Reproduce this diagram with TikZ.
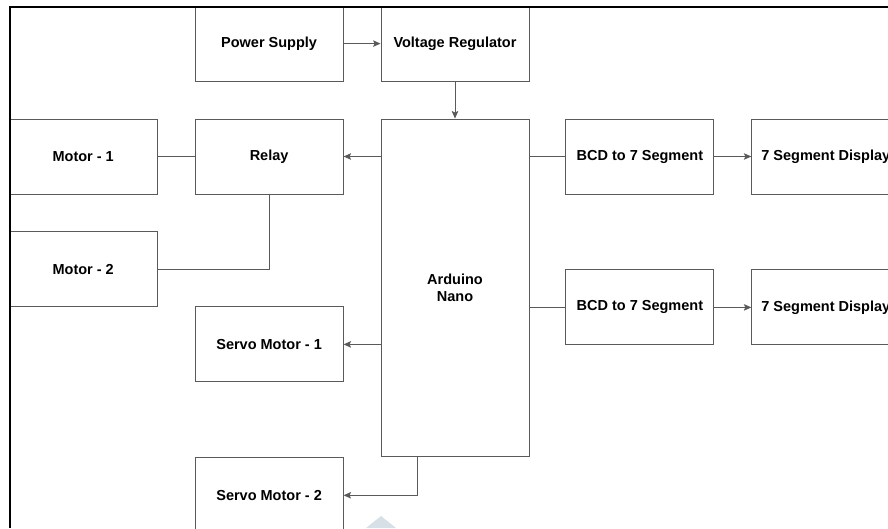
\documentclass[tikz,border=0pt]{standalone}
\usepackage{fontspec}
\setmainfont{Liberation Sans}
\usepackage{xcolor}
\usetikzlibrary{calc,arrows.meta,positioning}
\definecolor{edgegray}{RGB}{90,90,90}
\definecolor{markgray}{RGB}{214,224,230}

\begin{document}
\begin{tikzpicture}[x=1pt,y=1pt,font=\fontsize{14.5}{17}\selectfont\bfseries,>={Stealth[length=7.5pt,width=6.5pt,inset=1.5pt]},
      node distance=37pt,
      blk/.style={draw=edgegray,line width=0.9pt,minimum width=148pt,minimum height=75pt,align=center,inner sep=0pt},
      wire/.style={edgegray,line width=1pt}]
    \useasboundingbox (0,0) rectangle (888,-528);
    \clip (0,0) rectangle (888,-528);
    \node[blk,minimum height=337pt] (nano) at (455,-287.5) {Arduino\\Nano};
    \node[blk,above=of nano] (reg) {Voltage Regulator};
    \node[blk,left=of reg] (psu) {Power Supply};
    \node[blk,below left=0pt and 37pt of nano.north west] (relay) {Relay};
    \node[blk,left=of relay] (m1) {Motor - 1};
    \node[blk,below=of m1] (m2) {Motor - 2};
    \node[blk,below=112pt of relay] (s1) {Servo Motor - 1};
    \node[blk,below=75pt of s1] (s2) {Servo Motor - 2};
    \node[blk,below right=0pt and 36pt of nano.north east] (bcd1) {BCD to 7 Segment};
    \node[blk,right=of bcd1] (disp1) {7 Segment Display};
    \node[blk,below=75pt of bcd1] (bcd2) {BCD to 7 Segment};
    \node[blk,right=of bcd2] (disp2) {7 Segment Display};
    \coordinate (nanoout) at ($(nano.south west)!0.25!(nano.south east)$);
    \draw[->,wire] (psu) -- (reg);
    \draw[->,wire] (reg) -- (nano);
    \draw[->,wire] (nano.west |- relay) -- (relay);
    \draw[wire] (relay) -- (m1);
    \draw[wire] (m2) -| (relay);
    \draw[->,wire] (nano.west |- s1) -- (s1);
    \draw[->,wire] (nanoout) |- (s2);
    \draw[wire] (nano.east |- bcd1) -- (bcd1);
    \draw[->,wire] (bcd1) -- (disp1);
    \draw[wire] (nano.east |- bcd2) -- (bcd2);
    \draw[->,wire] (bcd2) -- (disp2);
    \fill[markgray] (366,-528) -- (381,-516) -- (396,-528) -- cycle;
    \draw[line width=2pt] (9.5,-528) -- (9.5,-7) -- (888,-7);
  \end{tikzpicture}
\end{document}
